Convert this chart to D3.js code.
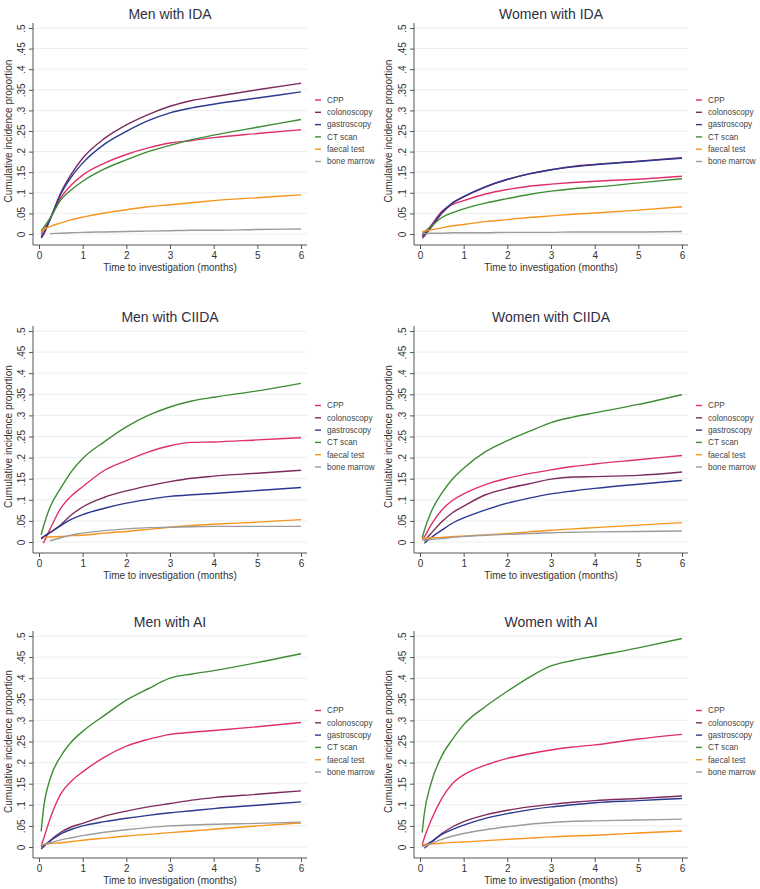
<!DOCTYPE html>
<html>
<head>
<meta charset="utf-8">
<script src="https://cdn.jsdelivr.net/npm/d3@7"></script>
<style>
  body { margin: 0; background: #fff; }
  text { font-family: "Liberation Sans", Arial, sans-serif; }
</style>
</head>
<body>
<script>
// time grid (months) shared by all curves, null = curve not started yet
const months = [0.05, 0.1, 0.25, 0.5, 0.75, 1, 1.5, 2, 2.5, 3, 3.5, 4, 5, 6];
const investigations = ["CPP", "colonoscopy", "gastroscopy", "CT scan", "faecal test", "bone marrow"];
const lineColors = ["#e0306a", "#7d2a5e", "#2b3990", "#3f8c35", "#f7941d", "#9c9c9c"];
const panelTitles = ["Men with IDA", "Women with IDA", "Men with CIIDA", "Women with CIIDA", "Men with AI", "Women with AI"];
const yTicks = [0, .05, .1, .15, .2, .25, .3, .35, .4, .45, .5];
const yTickLabels = ["0", ".05", ".1", ".15", ".2", ".25", ".3", ".35", ".4", ".45", ".5"];
const xTicks = [0, 1, 2, 3, 4, 5, 6];

// one row per investigation, same order as above
const menIDA = [
  [0.0, 0.008, 0.035, 0.088, 0.12, 0.143, 0.172, 0.193, 0.209, 0.221, 0.227, 0.234, 0.244, 0.253],
  [-0.01, -0.002, 0.035, 0.1, 0.147, 0.184, 0.232, 0.265, 0.29, 0.31, 0.324, 0.333, 0.35, 0.366],
  [-0.006, 0.0, 0.035, 0.097, 0.14, 0.172, 0.218, 0.249, 0.275, 0.294, 0.306, 0.315, 0.33, 0.345],
  [0.008, 0.015, 0.038, 0.083, 0.108, 0.128, 0.158, 0.18, 0.2, 0.215, 0.229, 0.24, 0.259, 0.278],
  [0.005, 0.01, 0.018, 0.027, 0.035, 0.041, 0.051, 0.059, 0.066, 0.071, 0.076, 0.081, 0.088, 0.095],
  [null, null, 0.001, 0.002, 0.003, 0.004, 0.005, 0.006, 0.007, 0.008, 0.009, 0.009, 0.011, 0.012]
];
const womenIDA = [
  [-0.005, 0.0, 0.02, 0.055, 0.072, 0.081, 0.097, 0.108, 0.116, 0.121, 0.125, 0.128, 0.133, 0.14],
  [-0.01, -0.005, 0.015, 0.05, 0.075, 0.09, 0.114, 0.132, 0.146, 0.156, 0.164, 0.169, 0.177, 0.185],
  [-0.004, 0.0, 0.018, 0.052, 0.076, 0.091, 0.115, 0.133, 0.146, 0.156, 0.163, 0.168, 0.176, 0.184],
  [0.0, 0.005, 0.018, 0.04, 0.052, 0.061, 0.075, 0.086, 0.096, 0.104, 0.11, 0.114, 0.124, 0.134],
  [0.005, 0.007, 0.01, 0.015, 0.02, 0.023, 0.03, 0.035, 0.04, 0.044, 0.048, 0.051, 0.058, 0.066],
  [0.001, 0.001, 0.002, 0.002, 0.003, 0.003, 0.003, 0.004, 0.004, 0.004, 0.005, 0.005, 0.005, 0.006]
];
const menCIIDA = [
  [null, -0.003, 0.03, 0.08, 0.11, 0.131, 0.17, 0.193, 0.213, 0.228, 0.236, 0.237, 0.242, 0.247],
  [0.008, 0.012, 0.022, 0.041, 0.065, 0.083, 0.106, 0.121, 0.133, 0.143, 0.151, 0.156, 0.163, 0.17],
  [0.008, 0.012, 0.022, 0.039, 0.054, 0.065, 0.08, 0.092, 0.101, 0.108, 0.112, 0.115, 0.122, 0.129],
  [0.017, 0.036, 0.082, 0.128, 0.168, 0.198, 0.238, 0.273, 0.3, 0.32, 0.334, 0.343, 0.358, 0.376],
  [null, 0.01, 0.012, 0.013, 0.015, 0.016, 0.021, 0.025, 0.03, 0.035, 0.039, 0.042, 0.047, 0.053],
  [null, null, 0.003, 0.01, 0.017, 0.021, 0.027, 0.031, 0.034, 0.035, 0.036, 0.037, 0.037, 0.037]
];
const womenCIIDA = [
  [0.005, 0.012, 0.04, 0.076, 0.099, 0.114, 0.136, 0.151, 0.162, 0.171, 0.179, 0.185, 0.195, 0.205],
  [null, 0.002, 0.02, 0.048, 0.07, 0.085, 0.112, 0.127, 0.138, 0.149, 0.154, 0.155, 0.158, 0.166],
  [null, -0.003, 0.01, 0.028, 0.045, 0.057, 0.076, 0.092, 0.104, 0.114, 0.121, 0.127, 0.137, 0.146],
  [0.01, 0.028, 0.07, 0.116, 0.15, 0.175, 0.214, 0.24, 0.262, 0.283, 0.296, 0.306, 0.326, 0.349],
  [0.008, 0.009, 0.01, 0.011, 0.013, 0.014, 0.017, 0.02, 0.024, 0.028, 0.031, 0.034, 0.04, 0.046],
  [0.005, 0.005, 0.006, 0.008, 0.011, 0.013, 0.016, 0.018, 0.02, 0.022, 0.023, 0.024, 0.025, 0.026]
];
const menAI = [
  [0.003, 0.018, 0.066, 0.126, 0.157, 0.178, 0.213, 0.239, 0.255, 0.267, 0.272, 0.276, 0.285, 0.295],
  [-0.005, 0.0, 0.015, 0.035, 0.048, 0.056, 0.073, 0.085, 0.095, 0.103, 0.111, 0.117, 0.125, 0.133],
  [0.0, 0.003, 0.014, 0.031, 0.042, 0.05, 0.06, 0.068, 0.075, 0.081, 0.086, 0.091, 0.099, 0.107],
  [0.037, 0.088, 0.16, 0.215, 0.25, 0.274, 0.312, 0.348, 0.375, 0.4, 0.41, 0.418, 0.437, 0.458],
  [0.005, 0.006, 0.008, 0.01, 0.013, 0.016, 0.021, 0.026, 0.03, 0.034, 0.038, 0.042, 0.05, 0.057],
  [0.005, 0.006, 0.01, 0.017, 0.022, 0.027, 0.035, 0.041, 0.046, 0.05, 0.052, 0.054, 0.056, 0.059]
];
const womenAI = [
  [0.005, 0.022, 0.062, 0.115, 0.151, 0.171, 0.194, 0.21, 0.221, 0.23, 0.237, 0.242, 0.256, 0.267],
  [null, -0.003, 0.01, 0.032, 0.048, 0.06, 0.076, 0.087, 0.095, 0.101, 0.106, 0.11, 0.115, 0.121],
  [0.002, 0.004, 0.012, 0.03, 0.042, 0.052, 0.068, 0.079, 0.088, 0.095, 0.1, 0.105, 0.11, 0.115],
  [0.034, 0.08, 0.15, 0.216, 0.256, 0.29, 0.333, 0.369, 0.402, 0.429, 0.442, 0.452, 0.472, 0.494],
  [0.005, 0.006, 0.007, 0.009, 0.011, 0.012, 0.015, 0.018, 0.021, 0.024, 0.026, 0.028, 0.033, 0.038],
  [null, 0.002, 0.008, 0.018, 0.026, 0.032, 0.041, 0.048, 0.054, 0.058, 0.061, 0.062, 0.064, 0.066]
];
const panelData = [menIDA, womenIDA, menCIIDA, womenCIIDA, menAI, womenAI];

// layout of the 2x3 grid
const colX0 = [39, 420], colX6 = [301, 682];
const rowYTop = [28, 331, 636], rowY0 = [234, 542, 847];

const svg = d3.select("body").append("svg")
    .attr("width", 760)
    .attr("height", 889);

panelData.forEach(function(series, i) {
    const col = i % 2, row = Math.floor(i / 2);
    const x = d3.scaleLinear().domain([0, 6]).range([colX0[col], colX6[col]]);
    const y = d3.scaleLinear().domain([0, 0.5]).range([rowY0[row], rowYTop[row]]);
    const axisX = x(0) - 6, axisY = y(0) + 11, right = x(6) + 6;
    const g = svg.append("g");

    // gridlines
    g.append("g").selectAll("line").data(yTicks).enter().append("line")
        .attr("x1", axisX).attr("x2", right)
        .attr("y1", d => y(d)).attr("y2", d => y(d))
        .attr("stroke", "#eceeee").attr("stroke-width", 1);

    // y axis
    const yAxis = g.append("g")
        .attr("transform", "translate(" + axisX + ",0)")
        .call(d3.axisLeft(y).tickValues(yTicks).tickSize(4).tickPadding(0)
            .tickFormat((d, k) => yTickLabels[k]));
    yAxis.select(".domain").remove();
    yAxis.selectAll(".tick line").attr("stroke", "#555");
    yAxis.selectAll(".tick text")
        .attr("x", null).attr("dy", null)
        .attr("transform", "translate(-8,0) rotate(-90)")
        .attr("text-anchor", "middle")
        .style("font-size", "10px").attr("fill", "#333");
    g.append("line")
        .attr("x1", axisX).attr("x2", axisX)
        .attr("y1", y(0.5) - 5).attr("y2", axisY)
        .attr("stroke", "#555");

    // x axis
    const xAxis = g.append("g")
        .attr("transform", "translate(0," + axisY + ")")
        .call(d3.axisBottom(x).tickValues(xTicks).tickSize(4).tickPadding(3)
            .tickFormat(d3.format("d")));
    xAxis.select(".domain").remove();
    xAxis.selectAll(".tick line").attr("stroke", "#555");
    xAxis.selectAll(".tick text").style("font-size", "10px").attr("fill", "#333");
    g.append("line")
        .attr("x1", axisX).attr("x2", right)
        .attr("y1", axisY).attr("y2", axisY)
        .attr("stroke", "#555");

    // axis titles
    const midX = (x(0) + x(6)) / 2, midY = (y(0) + y(0.5)) / 2;
    g.append("text")
        .attr("x", midX).attr("y", axisY + 26)
        .attr("text-anchor", "middle")
        .style("font-size", "10px").attr("fill", "#333")
        .text("Time to investigation (months)");
    g.append("text")
        .attr("transform", "translate(" + (col * 380 + 12) + "," + midY + ") rotate(-90)")
        .attr("text-anchor", "middle")
        .style("font-size", "10px").attr("fill", "#333")
        .text("Cumulative incidence proportion");

    // panel title
    g.append("text")
        .attr("x", midX).attr("y", y(0.5) - 9)
        .attr("text-anchor", "middle")
        .style("font-size", "14px").attr("fill", "#2f2f3f")
        .text(panelTitles[i]);

    // curves
    const line = d3.line()
        .defined(d => d[1] !== null)
        .x(d => x(d[0]))
        .y(d => y(d[1]))
        .curve(d3.curveMonotoneX);
    g.append("g").selectAll("path").data(series).enter().append("path")
        .attr("d", vals => line(months.map((m, k) => [m, vals[k]])))
        .attr("fill", "none")
        .attr("stroke", (d, k) => lineColors[k])
        .attr("stroke-width", 1.4);

    // legend
    const lg = g.append("g")
        .attr("transform", "translate(" + (x(6) + 14) + "," + (midY - 31) + ")");
    const item = lg.selectAll("g").data(investigations).enter().append("g")
        .attr("transform", (d, k) => "translate(0," + (k * 12.3) + ")");
    item.append("line")
        .attr("x1", 0).attr("x2", 6)
        .attr("stroke", (d, k) => lineColors[k])
        .attr("stroke-width", 1.4);
    item.append("text")
        .attr("x", 12).attr("dy", "0.35em")
        .style("font-size", "8.2px").attr("fill", "#444")
        .text(d => d);
});
</script>
</body>
</html>
